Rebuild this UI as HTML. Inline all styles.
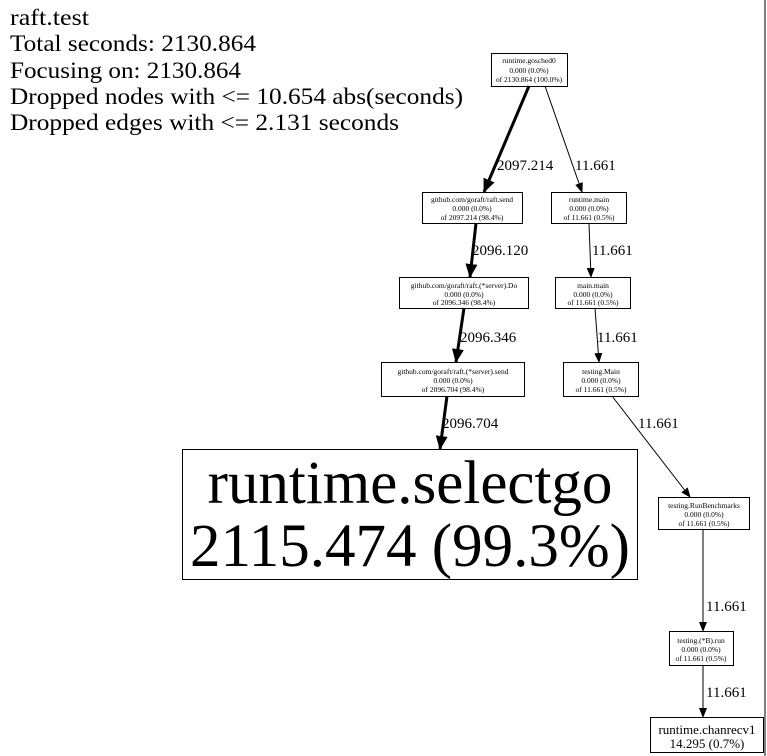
<!DOCTYPE html>
<html><head><style>
html,body{margin:0;padding:0;background:#fff;}
svg{display:block;}
text{font-family:"Liberation Serif",serif;fill:#000;}
</style></head><body>
<svg width="767" height="756" viewBox="0 0 767 756" xmlns="http://www.w3.org/2000/svg">
<defs>
<marker id="a" markerWidth="10" markerHeight="10" refX="9" refY="5" orient="auto" markerUnits="userSpaceOnUse"><path d="M0,1 L10,5 L0,9 z" fill="#000"/></marker>
<marker id="b" markerWidth="14" markerHeight="14" refX="13" refY="7" orient="auto" markerUnits="userSpaceOnUse"><path d="M0,1 L14,7 L0,13 z" fill="#000"/></marker>
</defs>
<g font-size="23">
<text x="10" y="25" textLength="79" lengthAdjust="spacingAndGlyphs">raft.test</text>
<text x="10" y="51" textLength="246" lengthAdjust="spacingAndGlyphs">Total seconds: 2130.864</text>
<text x="10" y="78" textLength="231" lengthAdjust="spacingAndGlyphs">Focusing on: 2130.864</text>
<text x="10" y="104" textLength="453" lengthAdjust="spacingAndGlyphs">Dropped nodes with &lt;= 10.654 abs(seconds)</text>
<text x="10" y="130" textLength="389" lengthAdjust="spacingAndGlyphs">Dropped edges with &lt;= 2.131 seconds</text>
</g>
<line x1="765" y1="0" x2="765" y2="756" stroke="#000" stroke-width="1"/>
<g fill="none" stroke="#000">
<rect x="491.5" y="53.5" width="76" height="33"/>
<rect x="422.5" y="192.5" width="100" height="31"/>
<rect x="551.5" y="192.5" width="75" height="31"/>
<rect x="399.5" y="277.5" width="129" height="31"/>
<rect x="555.5" y="277.5" width="75" height="31"/>
<rect x="381.5" y="362.5" width="143" height="34"/>
<rect x="563.5" y="362.5" width="75" height="34"/>
<rect x="182.5" y="449.5" width="455" height="130"/>
<rect x="658.5" y="497.5" width="91" height="32"/>
<rect x="669.5" y="631.5" width="64" height="34"/>
<rect x="650.5" y="717.5" width="113" height="35"/>
</g>
<g stroke="#000">
<line x1="529" y1="86" x2="484" y2="192" stroke-width="3" marker-end="url(#b)"/>
<line x1="545" y1="86" x2="582" y2="192" stroke-width="1" marker-end="url(#a)"/>
<line x1="476" y1="223" x2="470" y2="277" stroke-width="3" marker-end="url(#b)"/>
<line x1="589" y1="223" x2="591" y2="277" stroke-width="1" marker-end="url(#a)"/>
<line x1="464" y1="308" x2="456" y2="362" stroke-width="3" marker-end="url(#b)"/>
<line x1="595" y1="308" x2="599" y2="362" stroke-width="1" marker-end="url(#a)"/>
<line x1="447" y1="396" x2="440" y2="449" stroke-width="3" marker-end="url(#b)"/>
<line x1="612" y1="396" x2="690" y2="497" stroke-width="1" marker-end="url(#a)"/>
<line x1="703" y1="529" x2="703" y2="631" stroke-width="1" marker-end="url(#a)"/>
<line x1="703" y1="665" x2="703" y2="717" stroke-width="1" marker-end="url(#a)"/>
</g>
<g font-size="15">
<text x="497" y="170">2097.214</text>
<text x="575" y="170">11.661</text>
<text x="472" y="255">2096.120</text>
<text x="592" y="255">11.661</text>
<text x="460" y="342">2096.346</text>
<text x="597" y="342">11.661</text>
<text x="442" y="428">2096.704</text>
<text x="638" y="428">11.661</text>
<text x="706" y="611">11.661</text>
<text x="706" y="697">11.661</text>
</g>
<g font-size="7.5" text-anchor="middle">
<text x="529" y="63">runtime.gosched0</text><text x="529" y="73">0.000 (0.0%)</text><text x="529" y="82">of 2130.864 (100.0%)</text>
<text x="472" y="202">github.com/goraft/raft.send</text><text x="472" y="211">0.000 (0.0%)</text><text x="472" y="220">of 2097.214 (98.4%)</text>
<text x="589" y="202">runtime.main</text><text x="589" y="211">0.000 (0.0%)</text><text x="589" y="220">of 11.661 (0.5%)</text>
<text x="464" y="288">github.com/goraft/raft.(*server).Do</text><text x="464" y="297">0.000 (0.0%)</text><text x="464" y="305">of 2096.346 (98.4%)</text>
<text x="593" y="288">main.main</text><text x="593" y="297">0.000 (0.0%)</text><text x="593" y="305">of 11.661 (0.5%)</text>
<text x="453" y="374">github.com/goraft/raft.(*server).send</text><text x="453" y="383">0.000 (0.0%)</text><text x="453" y="392">of 2096.704 (98.4%)</text>
<text x="601" y="374">testing.Main</text><text x="601" y="383">0.000 (0.0%)</text><text x="601" y="392">of 11.661 (0.5%)</text>
<text x="704" y="508">testing.RunBenchmarks</text><text x="704" y="517">0.000 (0.0%)</text><text x="704" y="526">of 11.661 (0.5%)</text>
<text x="701" y="643">testing.(*B).run</text><text x="701" y="652">0.000 (0.0%)</text><text x="701" y="661">of 11.661 (0.5%)</text>
</g>
<g text-anchor="middle">
<text x="410" y="503" font-size="61">runtime.selectgo</text>
<text x="410" y="566" font-size="61">2115.474 (99.3%)</text>
<text x="707" y="734" font-size="13">runtime.chanrecv1</text>
<text x="707" y="748" font-size="13">14.295 (0.7%)</text>
</g>
</svg>
</body></html>
